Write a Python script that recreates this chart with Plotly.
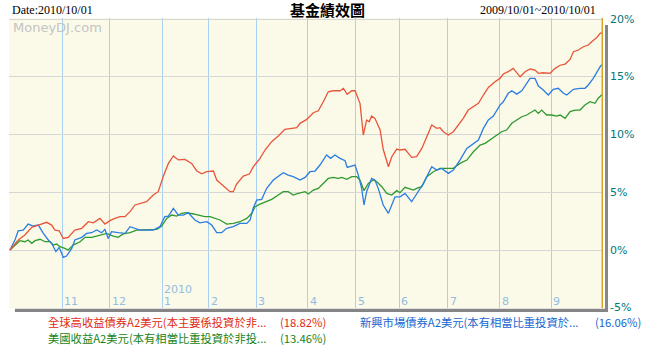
import plotly.graph_objects as go

# ---- data (x = trading-day index from 2009/10/01, y = cumulative return %) ----
red_name = "全球高收益債券A2美元(本主要係投資於非..."
red_pct = "(18.82%)"
red_x = [0, 3.5, 6.3, 9.2, 12.0, 15.5, 17.6, 19.0, 20.8, 22.5, 24.6, 27.4, 30.3, 33.1, 35.2, 38.0, 40.1, 42.2,
         44.3, 46.5, 48.6, 50.7, 52.8, 55.6, 57.7, 60.5, 62.6, 64.7, 66.9, 69.0, 71.1, 73.9, 76.7, 78.8, 80.9,
         83.1, 85.9, 87.3, 90.1, 92.9, 94.3, 95.7, 98.5, 101.1, 102.7, 105.6, 107.7, 110.5, 113.3, 116.1, 119.0,
         121.1, 122.5, 125.3, 128.1, 130.2, 132.3, 134.4, 136.5, 139.4, 140.8, 142.4, 144.3, 145.7, 147.8, 149.2,
         150.6, 151.7, 152.7, 154.1, 156.3, 157.6, 159.8, 161.2, 163.3, 164.7, 166.8, 169.6, 171.7, 173.9, 176.0,
         178.1, 180.2, 181.6, 183.0, 185.1, 187.2, 189.3, 191.4, 193.5, 195.7, 197.8, 199.9, 202.0, 204.8, 206.9,
         208.3, 210.4, 212.5, 214.0, 215.4, 217.5, 219.6, 221.7, 223.1, 225.2, 228.0, 230.2, 232.3, 234.4, 236.5,
         237.9, 240.0, 242.1, 244.2, 245.6, 247.8, 249.2, 250]
red_y = [0, 0.87, 1.3, 1.97, 2.16, 2.4, 2.16, 1.73, 1.67, 1.0, 1.1, 1.73, 1.88, 2.45, 2.36, 2.74, 2.25, 2.54,
         2.74, 2.89, 2.89, 3.32, 3.9, 4.04, 4.18, 4.76, 5.05, 6.35, 7.5, 8.14, 7.8, 7.85, 7.5, 6.87, 6.6,
         6.78, 6.84, 6.06, 5.54, 5.05, 5.05, 5.71, 6.4, 6.58, 7.2, 7.94, 8.66, 9.38, 9.87, 10.45, 10.53,
         10.59, 10.97, 11.31, 11.89, 12.06, 12.84, 13.7, 13.79, 13.79, 14.0, 13.48, 13.79, 13.79, 12.7, 9.96,
         11.26, 11.11, 11.6, 11.4, 10.39, 8.72, 7.21, 8.08, 8.74, 8.66, 8.72, 8.02, 8.08, 8.8, 9.81,
         10.82, 10.53, 10.59, 10.24, 9.96, 10.24, 10.82, 11.4, 12.12, 12.41, 12.7, 13.42, 14.08, 14.57, 14.86,
         15.24, 15.44, 15.73, 15.35, 15.0, 15.44, 15.67, 15.58, 15.3, 15.35, 15.3, 15.73, 16.0, 16.1, 16.5,
         17.17, 17.32, 17.6, 17.75, 18.04, 18.4, 18.76, 18.82]

blue_name = "新興市場債券A2美元(本有相當比重投資於..."
blue_pct = "(16.06%)"
blue_x = [0, 2.1, 3.5, 5.6, 7.7, 9.8, 12.0, 14.1, 16.2, 17.6, 19.4, 20.8, 22.5, 23.9, 26.1, 27.4, 30.3, 32.4,
          34.5, 36.6, 38.7, 40.1, 41.5, 42.9, 45.7, 48.6, 50.7, 52.8, 54.9, 57.7, 60.5, 63.3, 65.4, 66.9, 69.0,
          71.1, 73.2, 75.3, 78.1, 80.2, 83.1, 85.2, 87.3, 89.4, 91.5, 94.3, 97.1, 100.0, 101.4, 102.7, 104.2,
          106.3, 108.4, 111.2, 113.3, 115.4, 117.5, 119.6, 122.5, 124.6, 126.7, 128.8, 130.9, 133.7, 135.4,
          137.2, 139.4, 141.5, 142.4, 144.3, 145.7, 147.1, 148.5, 149.5, 150.6, 152.7, 154.1, 155.5, 157.6,
          159.8, 161.2, 162.6, 164.7, 166.8, 169.6, 171.7, 174.6, 178.1, 180.2, 182.3, 185.1, 187.2, 190.0,
          192.9, 195.7, 197.8, 199.9, 202.0, 204.1, 206.9, 208.3, 210.4, 211.9, 214.0, 216.1, 218.2, 219.6,
          221.7, 223.1, 225.2, 227.3, 229.4, 231.5, 233.7, 235.1, 237.9, 240.7, 242.8, 244.2, 246.3, 247.8,
          249.2, 250]
blue_y = [0, 0.87, 1.67, 1.73, 2.25, 2.08, 2.16, 1.44, 0.87, 0.58, -0.14, 0.23, -0.63, -0.52, 0.14, 0.87, 1.1, 1.44,
          1.5, 1.73, 1.5, 1.79, 1.0, 1.59, 1.5, 1.44, 2.02, 1.88, 1.73, 1.73, 1.73, 2.02, 2.89, 2.94, 3.61,
          3.03, 3.03, 3.23, 2.6, 2.36, 2.45, 2.16, 1.5, 1.5, 1.88, 2.02, 2.31, 2.31, 2.6, 3.61, 4.33,
          4.39, 5.34, 6.06, 6.35, 6.69, 6.49, 6.35, 6.06, 6.29, 6.78, 6.84, 7.36, 8.23, 7.94,
          8.23, 7.94, 7.73, 7.16, 7.27, 7.36, 6.49, 5.34, 3.9, 5.05, 6.2, 6.06, 5.34, 3.9,
          3.18, 3.9, 4.61, 4.61, 4.9, 4.18, 4.9, 5.77, 7.21, 6.93, 7.07, 6.64, 6.93, 7.79,
          8.8, 9.24, 9.52, 10.53, 11.26, 11.6, 12.55, 12.84, 13.57, 13.79, 13.5, 13.79, 14.43, 14.86,
          14.86, 14.2, 13.85, 13.42, 13.91, 14.0, 13.57, 13.42, 13.91, 14.0, 14.0, 14.29, 14.86, 15.44,
          15.87, 16.06]

green_name = "美國收益A2美元(本有相當比重投資於非投..."
green_pct = "(13.46%)"
green_x = [0, 2.1, 4.2, 6.3, 7.7, 9.2, 10.6, 12.7, 14.8, 16.9, 18.3, 19.7, 21.1, 23.2, 24.6, 26.7, 29.6, 31.7,
           34.5, 36.6, 38.7, 40.8, 43.6, 45.7, 47.8, 50.7, 53.5, 56.3, 59.1, 62.0, 64.1, 66.2, 68.3, 70.4, 72.5,
           74.6, 77.4, 79.5, 82.3, 84.5, 87.3, 88.7, 91.5, 94.3, 97.1, 100.0, 102.1, 103.5, 105.6, 108.4, 110.5,
           113.3, 115.4, 117.5, 119.6, 121.7, 124.6, 126.0, 128.1, 130.2, 132.3, 134.4, 136.5, 138.6, 140.1,
           142.2, 144.3, 146.4, 147.8, 149.5, 151.3, 153.4, 154.9, 157.0, 159.1, 161.2, 163.3, 164.7, 166.8,
           168.9, 170.3, 171.7, 173.9, 176.0, 178.8, 181.6, 184.4, 187.2, 190.0, 192.9, 195.7, 198.5, 200.6,
           202.7, 205.5, 207.6, 209.7, 211.9, 214.0, 216.1, 218.2, 220.3, 221.7, 223.1, 224.5, 226.6, 228.7,
           230.8, 232.3, 234.4, 236.5, 238.6, 240.7, 242.8, 244.9, 247.0, 248.4, 250]
green_y = [0, 0.43, 0.81, 0.72, 0.87, 0.58, 0.81, 0.93, 0.72, 0.72, 0.43, 0.52, 0.29, 0.14, 0, 0.43, 0.72, 1.1,
           1.1, 1.21, 1.3, 1.44, 1.21, 1.1, 1.39, 1.5, 1.73, 1.73, 1.73, 1.79, 2.08, 2.74, 3.03, 2.94, 3.18,
           3.23, 3.12, 3.03, 2.89, 2.89, 2.74, 2.6, 2.25, 2.31, 2.45, 2.74, 3.18, 3.75, 3.98, 4.18, 4.39,
           4.76, 5.05, 5.05, 4.76, 4.9, 5.05, 4.85, 5.19, 5.34, 5.77, 6.2, 6.29, 6.2, 6.29,
           6.12, 6.35, 6.35, 6.06, 5.14, 5.77, 6.06, 5.91, 5.48, 4.9, 4.76, 5.14, 4.96, 5.43,
           5.25, 5.19, 5.34, 5.48, 6.35, 6.78, 7.07, 7.07, 7.07, 7.5, 7.79, 8.51, 9.09, 9.24,
           9.52, 9.96, 10.24, 10.39, 10.97, 11.26, 11.54, 11.69, 11.98, 12.12, 11.83, 12.12, 11.69, 11.69,
           11.6, 11.69, 11.4, 11.98, 12.12, 12.12, 12.55, 12.84, 12.7, 13.14, 13.46]

month_pos = [22.0, 42.2, 64.2, 84.0, 103.9, 125.8, 146.1, 164.3, 184.9, 206.9, 228.5]
month_labels = ["11", "12", "1", "2", "3", "4", "5", "6", "7", "8", "9"]
year_label = "2010"
y_ticks = [20, 15, 10, 5, 0, -5]
y_tick_labels = ["20%", "15%", "10%", "5%", "0%", "-5%"]

title_text = "基金績效圖"
date_text = "Date:2010/10/01"
range_text = "2009/10/01~2010/10/01"
watermark = "MoneyDJ.com"

RED, BLUE, GREEN = "#E8553A", "#2A7DE1", "#2E9A2E"
RED_T, BLUE_T, GREEN_T = "#E02A10", "#1466D2", "#178217"
CJK = "Noto Sans CJK TC"
LEG_SIZE = 11.3

fig = go.Figure()
for xs, ys, c in [(green_x, green_y, GREEN), (blue_x, blue_y, BLUE), (red_x, red_y, RED)]:
    fig.add_trace(go.Scatter(x=xs, y=ys, mode="lines", line=dict(color=c, width=1.3),
                             hoverinfo="skip", showlegend=False))

XR = [-0.4, 250.4]
YR = [-5.02, 20.09]

fig.update_layout(
    width=649, height=358,
    margin=dict(l=9, r=46, t=18, b=50, autoexpand=False),
    paper_bgcolor="white",
    plot_bgcolor="#FBFAE9",
    showlegend=False,
    xaxis=dict(range=XR, tickvals=month_pos, showticklabels=False, showgrid=True,
               gridcolor="#A8D0F2", gridwidth=1, zeroline=False, showline=False, fixedrange=True),
    yaxis=dict(range=YR, tickvals=[0, 5, 10, 15, 20], showticklabels=False, showgrid=True,
               gridcolor="#D6D6D6", gridwidth=1, zeroline=False, showline=False, fixedrange=True),
)

ann = []
# month labels
for p, lab in zip(month_pos, month_labels):
    ann.append(dict(x=p, y=0.021, xref="x", yref="paper", text=lab, showarrow=False,
                    xanchor="left", yanchor="middle",
                    font=dict(family="DejaVu Sans", size=11, color="#92BCE2")))
ann.append(dict(x=month_pos[2], y=0.064, xref="x", yref="paper", text=year_label, showarrow=False,
                xanchor="left", yanchor="middle",
                font=dict(family="DejaVu Sans", size=11, color="#92BCE2")))
# right axis labels
for v, lab in zip(y_ticks, y_tick_labels):
    ann.append(dict(x=1.0, y=v, xref="paper", yref="y", text=lab, showarrow=False,
                    xanchor="left", yanchor="middle", xshift=5,
                    font=dict(family="DejaVu Sans", size=11, color="#00787A")))
# header
ann.append(dict(x=0.0017, y=1.028, xref="paper", yref="paper", text=date_text, showarrow=False,
                xanchor="left", yanchor="middle", font=dict(family="Liberation Serif", size=12, color="black")))
ann.append(dict(x=0.536, y=1.031, xref="paper", yref="paper", text="<b>" + title_text + "</b>", showarrow=False,
                xanchor="center", yanchor="middle", font=dict(family=CJK, size=15, color="black")))
ann.append(dict(x=0.9916, y=1.028, xref="paper", yref="paper", text=range_text, showarrow=False,
                xanchor="right", yanchor="middle", font=dict(family="Liberation Serif", size=12, color="black")))
ann.append(dict(x=0.004, y=0.966, xref="paper", yref="paper", text=watermark, showarrow=False,
                xanchor="left", yanchor="middle", font=dict(family="DejaVu Sans", size=13, color="#C4C4C4")))
# legend text
ann.append(dict(x=0.436, y=-0.048, xref="paper", yref="paper", text=red_name, showarrow=False,
                xanchor="right", yanchor="middle", font=dict(family=CJK, size=LEG_SIZE, color=RED_T)))
ann.append(dict(x=0.537, y=-0.048, xref="paper", yref="paper", text=red_pct, showarrow=False,
                xanchor="right", yanchor="middle", font=dict(family=CJK, size=LEG_SIZE, color=RED_T)))
ann.append(dict(x=0.436, y=-0.103, xref="paper", yref="paper", text=green_name, showarrow=False,
                xanchor="right", yanchor="middle", font=dict(family=CJK, size=LEG_SIZE, color=GREEN_T)))
ann.append(dict(x=0.537, y=-0.103, xref="paper", yref="paper", text=green_pct, showarrow=False,
                xanchor="right", yanchor="middle", font=dict(family=CJK, size=LEG_SIZE, color=GREEN_T)))
ann.append(dict(x=0.5875, y=-0.048, xref="paper", yref="paper", text=blue_name, showarrow=False,
                xanchor="left", yanchor="middle", font=dict(family=CJK, size=LEG_SIZE, color=BLUE_T)))
ann.append(dict(x=1.0673, y=-0.048, xref="paper", yref="paper", text=blue_pct, showarrow=False,
                xanchor="right", yanchor="middle", font=dict(family=CJK, size=LEG_SIZE, color=BLUE_T)))
fig.update_layout(annotations=ann)

shapes = [
    # shadow right and bottom
    dict(type="rect", xref="paper", yref="paper", x0=1.0034, x1=1.0084, y0=-0.0138, y1=0.976,
         fillcolor="#858585", line=dict(width=0), layer="below"),
    dict(type="rect", xref="paper", yref="paper", x0=0.010, x1=1.0084, y0=-0.0138, y1=-0.003,
         fillcolor="#858585", line=dict(width=0), layer="below"),
    # end-date marker line
    dict(type="line", xref="x", yref="paper", x0=250.2, x1=250.2, y0=0, y1=1,
         line=dict(color="#D9A425", width=2)),
]
fig.update_layout(shapes=shapes)

fig.write_html("out.html", config={"displayModeBar": False},
               post_script="document.body.style.margin='0';document.body.style.overflow='hidden';")
